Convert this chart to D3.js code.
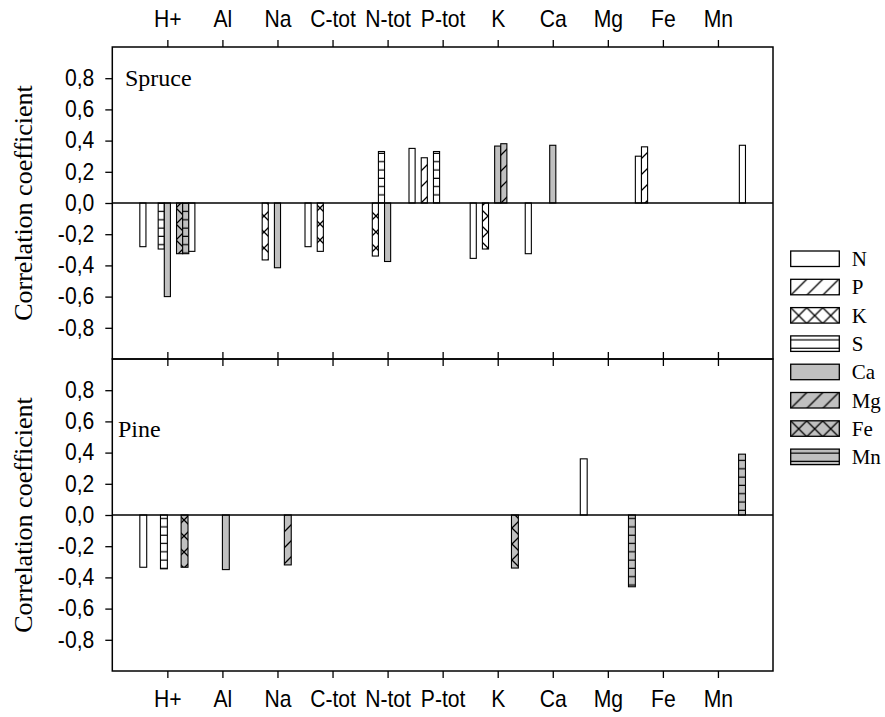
<!DOCTYPE html>
<html lang="en">
    <head>
        <meta charset="utf-8">
        <title>Correlation coefficients</title>
        <script type="text/javascript" src="https://cdnjs.cloudflare.com/ajax/libs/d3/7.8.5/d3.min.js"></script>
        <style type="text/css">
            body { margin: 0; background: #fff; }
        </style>
    </head>
    <body>
        <script type="text/javascript">
            var w = 885;
            var h = 717;

            var categories = ["H+", "Al", "Na", "C-tot", "N-tot", "P-tot", "K", "Ca", "Mg", "Fe", "Mn"];
            var series = ["N", "P", "K", "S", "Ca", "Mg", "Fe", "Mn"];
            var yTicks = [-0.8, -0.6, -0.4, -0.2, 0, 0.2, 0.4, 0.6, 0.8];

            // spruce, one value per category (null = no bar)
            var spruceN  = [-0.28, null, null, -0.28, null, null, -0.355, -0.325, null, 0.30, null];
            var spruceP  = [null, null, null, null, null, 0.29, null, null, null, 0.36, null];
            var spruceK  = [null, null, -0.365, -0.31, -0.34, null, -0.295, null, null, null, null];
            var spruceS  = [-0.295, null, null, null, 0.33, 0.33, null, null, null, null, null];
            var spruceCa = [-0.60, null, -0.415, null, -0.375, null, 0.365, 0.37, null, null, null];
            var spruceMg = [null, null, null, null, null, null, 0.38, null, null, null, null];
            var spruceFe = [-0.325, null, null, null, null, null, null, null, null, null, null];
            var spruceMn = [-0.325, null, null, null, null, null, null, null, null, null, null];
            // ninth, unlabelled white bar in the spruce groups
            var spruceExtra = [-0.31, null, null, null, 0.35, null, null, null, null, null, 0.37];

            // pine
            var pineN  = [-0.335, null, null, null, null, null, null, null, 0.36, null, null];
            var pineP  = [null, null, null, null, null, null, null, null, null, null, null];
            var pineK  = [null, null, null, null, null, null, null, null, null, null, null];
            var pineS  = [-0.345, null, null, null, null, null, null, null, null, null, null];
            var pineCa = [null, -0.35, null, null, null, null, null, null, null, null, null];
            var pineMg = [null, null, -0.32, null, null, null, null, null, null, null, null];
            var pineFe = [-0.335, null, null, null, null, null, -0.34, null, null, null, null];
            var pineMn = [null, null, null, null, null, null, null, null, -0.46, null, 0.39];

            var styles = {
                N:  { fill: "#fff", pat: null },
                P:  { fill: "#fff", pat: "diag" },
                K:  { fill: "#fff", pat: "cross" },
                S:  { fill: "#fff", pat: "horiz" },
                Ca: { fill: "#c0c0c0", pat: null },
                Mg: { fill: "#c0c0c0", pat: "diag" },
                Fe: { fill: "#c0c0c0", pat: "cross" },
                Mn: { fill: "#c0c0c0", pat: "horiz" },
                extra: { fill: "#fff", pat: null }
            };

            var sansFont = "'Liberation Sans', Arial, sans-serif";
            var serifFont = "'Liberation Serif', 'Times New Roman', serif";

            var left = 112.3, right = 773;
            var panels = [
                { name: "Spruce", top: 47, bottom: 359, keys: series.concat(["extra"]),
                  values: [spruceN, spruceP, spruceK, spruceS, spruceCa, spruceMg, spruceFe, spruceMn, spruceExtra],
                  labelX: 125, labelY: 86 },
                { name: "Pine", top: 359, bottom: 671, keys: series,
                  values: [pineN, pineP, pineK, pineS, pineCa, pineMg, pineFe, pineMn],
                  labelX: 118, labelY: 437 }
            ];

            var svg = d3.select("body")
                        .append("svg")
                        .attr("width", w)
                        .attr("height", h);

            // hatch patterns: white or grey base with black lines
            var defs = svg.append("defs");
            ["#fff", "#c0c0c0"].forEach(function (base) {
                var tag = base == "#fff" ? "w" : "g";
                var p = defs.append("pattern").attr("id", "diag-" + tag)
                    .attr("patternUnits", "userSpaceOnUse").attr("width", 16).attr("height", 16);
                p.append("rect").attr("width", 16).attr("height", 16).attr("fill", base);
                p.append("path").attr("d", "M0,16L16,0M-4,4L4,-4M12,20L20,12")
                    .attr("stroke", "#000").attr("stroke-width", 1.3);

                p = defs.append("pattern").attr("id", "cross-" + tag)
                    .attr("patternUnits", "userSpaceOnUse").attr("width", 16).attr("height", 16);
                p.append("rect").attr("width", 16).attr("height", 16).attr("fill", base);
                p.append("path").attr("d", "M0,0L16,16M16,0L0,16")
                    .attr("stroke", "#000").attr("stroke-width", 1.3);

                p = defs.append("pattern").attr("id", "horiz-" + tag)
                    .attr("patternUnits", "userSpaceOnUse").attr("width", 8).attr("height", 8.3);
                p.append("rect").attr("width", 8).attr("height", 8.3).attr("fill", base);
                p.append("path").attr("d", "M0,4L8,4")
                    .attr("stroke", "#000").attr("stroke-width", 1.2);
            });

            function fillOf(key) {
                var s = styles[key];
                if (!s.pat) return s.fill;
                return "url(#" + s.pat + "-" + (s.fill == "#fff" ? "w" : "g") + ")";
            }

            var x = d3.scalePoint()
                      .domain(categories)
                      .range([left, right])
                      .padding(1);

            panels.forEach(function (panel, pi) {
                var y = d3.scaleLinear()
                          .domain([-1, 1])
                          .range([panel.bottom, panel.top]);

                var sub = d3.scaleBand()
                            .domain(panel.keys)
                            .range([-x.step() / 2, x.step() / 2])
                            .padding(0);

                var bars = [];
                panel.keys.forEach(function (k, si) {
                    panel.values[si].forEach(function (v, ci) {
                        if (v !== null) bars.push({ key: k, cat: categories[ci], value: v });
                    });
                });

                svg.append("g")
                   .selectAll("rect")
                   .data(bars)
                   .enter()
                   .append("rect")
                   .attr("x", function (d) { return x(d.cat) + sub(d.key); })
                   .attr("y", function (d) { return Math.min(y(d.value), y(0)); })
                   .attr("width", sub.bandwidth())
                   .attr("height", function (d) { return Math.abs(y(d.value) - y(0)); })
                   .attr("fill", function (d) { return fillOf(d.key); })
                   .attr("stroke", "#000")
                   .attr("stroke-width", 1.1);

                // zero line
                svg.append("line")
                   .attr("x1", left).attr("x2", right)
                   .attr("y1", y(0)).attr("y2", y(0))
                   .attr("stroke", "#000").attr("stroke-width", 1.5);

                // frame
                svg.append("rect")
                   .attr("x", left).attr("y", panel.top)
                   .attr("width", right - left).attr("height", panel.bottom - panel.top)
                   .attr("fill", "none").attr("stroke", "#000").attr("stroke-width", 1.5);

                // y axis
                var ya = svg.append("g")
                   .attr("class", "yaxis")
                   .attr("transform", "translate(" + left + ",0)")
                   .call(d3.axisLeft(y).tickValues(yTicks).tickSize(7)
                           .tickFormat(function (d) { return d3.format(".1f")(d).replace(".", ",").replace("−", "-"); }));
                ya.select(".domain").remove();
                ya.selectAll(".tick text")
                  .attr("x", 0)
                  .attr("transform", "translate(-18,0) scale(0.92,1)");

                // x axes, top and bottom
                var xt = svg.append("g")
                   .attr("transform", "translate(0," + panel.top + ")")
                   .call(d3.axisTop(x).tickSize(7).tickPadding(13)
                           .tickFormat(pi == 0 ? null : function () { return ""; }));
                xt.select(".domain").remove();
                xt.selectAll(".tick text").attr("transform", "scale(0.92,1)");
                var xb = svg.append("g")
                   .attr("transform", "translate(0," + panel.bottom + ")")
                   .call(d3.axisBottom(x).tickSize(7).tickPadding(13)
                           .tickFormat(pi == 1 ? null : function () { return ""; }));
                xb.select(".domain").remove();
                xb.selectAll(".tick text").attr("transform", "scale(0.92,1)");

                svg.selectAll(".tick line").attr("stroke-width", 1.3);
                svg.selectAll(".tick text")
                   .attr("font-family", sansFont)
                   .attr("font-size", "23px")
                   .attr("fill", "#000");

                // panel label
                svg.append("text")
                   .attr("x", panel.labelX).attr("y", panel.labelY)
                   .attr("font-family", serifFont).attr("font-size", "24px")
                   .text(panel.name);

                // y title
                svg.append("text")
                   .attr("transform", "translate(32," + ((panel.top + panel.bottom) / 2) + ") rotate(-90)")
                   .attr("text-anchor", "middle")
                   .attr("font-family", serifFont).attr("font-size", "26px")
                   .text("Correlation coefficient");
            });

            // legend
            var legend = svg.append("g")
                            .selectAll("g")
                            .data(series)
                            .enter()
                            .append("g")
                            .attr("transform", function (d, i) { return "translate(790.7," + (251 + i * 28.3) + ")"; });
            legend.append("rect")
                  .attr("width", 48.6).attr("height", 15.5)
                  .attr("fill", function (d) { return fillOf(d); })
                  .attr("stroke", "#000").attr("stroke-width", 1.3);
            legend.append("text")
                  .attr("x", 61).attr("y", 15)
                  .attr("font-family", serifFont).attr("font-size", "21px")
                  .text(function (d) { return d; });
        </script>
    </body>
</html>
